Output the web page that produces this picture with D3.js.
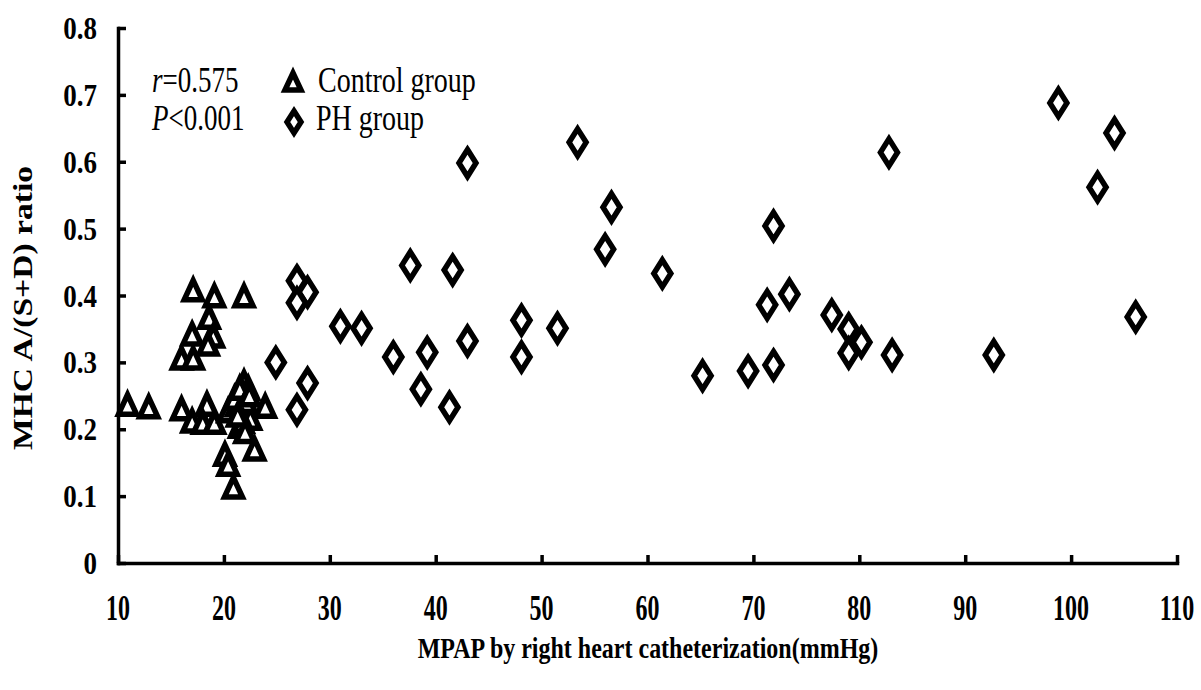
<!DOCTYPE html>
<html>
<head>
<meta charset="utf-8">
<script src="https://cdn.jsdelivr.net/npm/d3@7"></script>
<style>
  body { margin: 0; background: #fff; }
  svg { display: block; }
</style>
</head>
<body>
<div id="chart"></div>
<script>
// Control group (triangles)
var controlX = [17.1, 19.1, 21.9, 18.6, 17.0, 19.0, 18.5, 16.0, 17.1, 10.9, 12.9, 16.0, 18.4,
                17.0, 18.0, 19.1, 20.4, 21.9, 21.8, 21.8, 21.5, 23.9, 22.9, 20.1, 20.4, 20.9,
                22.3, 21.2, 22.5, 21.0, 21.5, 22.1, 21.8, 22.0, 21.3, 22.4];
var controlY = [0.407, 0.398, 0.398, 0.366, 0.341, 0.338, 0.326, 0.305, 0.305, 0.236, 0.232, 0.229, 0.236,
                0.211, 0.209, 0.209, 0.226, 0.269, 0.251, 0.224, 0.203, 0.233, 0.169, 0.161, 0.146, 0.112,
                0.26, 0.235, 0.215, 0.245, 0.26, 0.24, 0.21, 0.195, 0.22, 0.25];

// PH group (diamonds)
var phX = [26.9, 27.9, 26.9, 31.0, 24.9, 27.9, 26.9, 33.0, 36.0, 37.6, 39.2, 38.6, 41.6, 41.3,
           43.0, 43.0, 48.1, 48.1, 51.5, 53.4, 56.6, 56.0, 61.4, 65.2, 69.5, 71.9, 71.3, 71.9,
           73.4, 77.4, 79.0, 80.2, 79.0, 82.8, 83.1, 92.7, 98.8, 102.5, 104.1, 106.1];
var phY = [0.422, 0.405, 0.389, 0.354, 0.300, 0.269, 0.229, 0.351, 0.308, 0.445, 0.315, 0.260, 0.438, 0.233,
           0.598, 0.332, 0.363, 0.308, 0.351, 0.629, 0.532, 0.469, 0.433, 0.280, 0.287, 0.296, 0.386, 0.504,
           0.402, 0.371, 0.350, 0.330, 0.314, 0.614, 0.311, 0.311, 0.688, 0.562, 0.643, 0.368];

var xTicks = [10, 20, 30, 40, 50, 60, 70, 80, 90, 100, 110];
var yTicks = [0, 0.1, 0.2, 0.3, 0.4, 0.5, 0.6, 0.7, 0.8];
var yTickLabels = ["0", "0.1", "0.2", "0.3", "0.4", "0.5", "0.6", "0.7", "0.8"];

var width = 1201, height = 690;
var serif = "'Liberation Serif', 'Times New Roman', serif";

var svg = d3.select("#chart").append("svg")
    .attr("width", width)
    .attr("height", height);

var x = d3.scaleLinear().domain([10, 110]).range([118, 1177]);
var y = d3.scaleLinear().domain([0, 0.8]).range([563, 28]);

var triPath = "M0,-10.5L9,9L-9,9Z";
var diaPath = "M0,-13.5L8.5,0L0,13.5L-8.5,0Z";

// axes (ticks point inward)
var xAxis = d3.axisBottom(x).tickValues(xTicks).tickSizeInner(-8).tickSizeOuter(0).tickFormat("");
var yAxis = d3.axisLeft(y).tickValues(yTicks).tickSizeInner(-8).tickSizeOuter(0).tickFormat("");

var gx = svg.append("g").attr("transform", "translate(0," + y(0) + ")").call(xAxis);
var gy = svg.append("g").attr("transform", "translate(" + x(10) + ",0)").call(yAxis);
[gx, gy].forEach(function(g) {
  g.selectAll("path, line").attr("stroke", "#000").attr("stroke-width", 3.5);
  g.select(".domain").attr("stroke-linecap", "square");
});

// tick labels
svg.append("g").selectAll("text")
  .data(xTicks)
  .enter().append("text")
  .attr("transform", function(d) { return "translate(" + x(d) + ",620) scale(1,1.45)"; })
  .attr("text-anchor", "middle")
  .attr("font-family", serif)
  .attr("font-weight", "bold")
  .attr("font-size", "24px")
  .attr("fill", "#000")
  .text(function(d) { return d; });

svg.append("g").selectAll("text")
  .data(yTicks)
  .enter().append("text")
  .attr("transform", function(d) { return "translate(97," + (y(d) + 11) + ") scale(1,1.2)"; })
  .attr("text-anchor", "end")
  .attr("font-family", serif)
  .attr("font-weight", "bold")
  .attr("font-size", "27px")
  .attr("fill", "#000")
  .text(function(d, i) { return yTickLabels[i]; });

// axis titles
svg.append("text")
  .attr("transform", "translate(648,658) scale(1,1.25)")
  .attr("text-anchor", "middle")
  .attr("font-family", serif)
  .attr("font-weight", "bold")
  .attr("font-size", "24px")
  .attr("fill", "#000")
  .text("MPAP by right heart catheterization(mmHg)");

svg.append("text")
  .attr("transform", "translate(32,308) rotate(-90) scale(1.2,1)")
  .attr("text-anchor", "middle")
  .attr("font-family", serif)
  .attr("font-weight", "bold")
  .attr("font-size", "28px")
  .attr("fill", "#000")
  .text("MHC A/(S+D) ratio");

// points
var control = controlX.map(function(d, i) { return [d, controlY[i]]; });
var ph = phX.map(function(d, i) { return [d, phY[i]]; });

svg.append("g").selectAll("path")
  .data(ph)
  .enter().append("path")
  .attr("d", diaPath)
  .attr("transform", function(d) { return "translate(" + x(d[0]) + "," + y(d[1]) + ")"; })
  .attr("fill", "#fff")
  .attr("stroke", "#000")
  .attr("stroke-width", 5.5);

svg.append("g").selectAll("path")
  .data(control)
  .enter().append("path")
  .attr("d", triPath)
  .attr("transform", function(d) { return "translate(" + x(d[0]) + "," + y(d[1]) + ")"; })
  .attr("fill", "#fff")
  .attr("stroke", "#000")
  .attr("stroke-width", 5.5);

// annotation
var note = svg.append("g").attr("font-family", serif).attr("font-size", "27px").attr("fill", "#000");
var t1 = note.append("text").attr("transform", "translate(152,92) scale(1,1.3)");
t1.append("tspan").attr("font-style", "italic").text("r");
t1.append("tspan").text("=0.575");
var t2 = note.append("text").attr("transform", "translate(152,130) scale(1,1.3)");
t2.append("tspan").attr("font-style", "italic").text("P");
t2.append("tspan").text("<0.001");

// legend
var legend = svg.append("g");
legend.append("path").attr("d", "M0,-9L8,8L-8,8Z")
  .attr("transform", "translate(293,82)")
  .attr("fill", "#fff").attr("stroke", "#000").attr("stroke-width", 5.5);
legend.append("path").attr("d", "M0,-11L7,0L0,11L-7,0Z")
  .attr("transform", "translate(294,122)")
  .attr("fill", "#fff").attr("stroke", "#000").attr("stroke-width", 5.5);
legend.append("text").attr("transform", "translate(318,92) scale(1,1.25)")
  .attr("font-family", serif).attr("font-size", "28px").attr("fill", "#000")
  .text("Control group");
legend.append("text").attr("transform", "translate(316,130) scale(1,1.25)")
  .attr("font-family", serif).attr("font-size", "28px").attr("fill", "#000")
  .text("PH group");
</script>
</body>
</html>
